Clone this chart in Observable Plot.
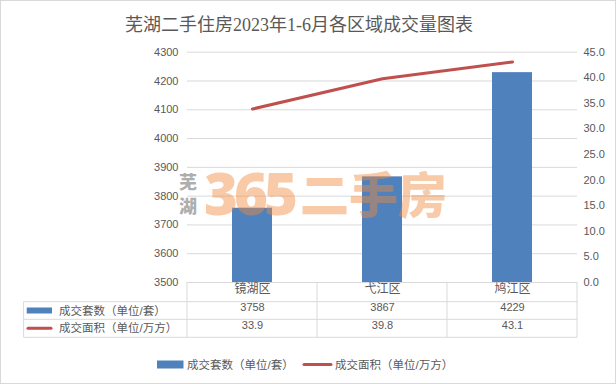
<!DOCTYPE html>
<html>
<head>
<meta charset="utf-8">
<script src="https://cdn.jsdelivr.net/npm/d3@7"></script>
<script src="https://cdn.jsdelivr.net/npm/@observablehq/plot@0.6"></script>
<style>
  html, body { margin: 0; padding: 0; background: #fff; }
  #chart svg { display: block; }
</style>
</head>
<body>
<div id="chart"></div>
<script>
const title = "芜湖二手住房2023年1-6月各区域成交量图表";
const categories = ["镜湖区", "弋江区", "鸠江区"];
const units = [3758, 3867, 4229];          // 成交套数（单位/套）
const areas = [33.9, 39.8, 43.1];          // 成交面积（单位/万方）
const seriesNames = ["成交套数（单位/套）", "成交面积（单位/万方）"];
const leftTicks = [3500, 3600, 3700, 3800, 3900, 4000, 4100, 4200, 4300];
const rightTicks = [0, 5, 10, 15, 20, 25, 30, 35, 40, 45];

const leftDomain = [3500, 4300];
const rightDomain = [0, 45];
const toLeft = v => leftDomain[0] + (v - rightDomain[0]) / (rightDomain[1] - rightDomain[0]) * (leftDomain[1] - leftDomain[0]);
const toRight = v => rightDomain[0] + (v - leftDomain[0]) / (leftDomain[1] - leftDomain[0]) * (rightDomain[1] - rightDomain[0]);

const rows = categories.map((c, i) => ({cat: c, units: units[i], area: areas[i]}));

const FONT = '"Liberation Sans", "Noto Sans CJK SC", sans-serif';
const TEXT = "#595959";
const BLUE = "#4F81BD";
const RED = "#C0504D";
const GRID = "#D9D9D9";

const chart = Plot.plot({
  width: 616,
  height: 384,
  marginTop: 51.7,
  marginBottom: 102,
  marginLeft: 187,
  marginRight: 39,
  style: {fontFamily: FONT, fontSize: "11px", color: TEXT, background: "#fff", overflow: "visible"},
  x: {domain: categories, padding: 0, axis: null},
  y: {domain: leftDomain, axis: null},
  marks: [
    Plot.gridY(leftTicks, {stroke: GRID, strokeOpacity: 1, strokeWidth: 1}),
    Plot.axisY(leftTicks, {anchor: "left", tickSize: 0, tickPadding: 9, tickFormat: d => String(d), label: null, fontSize: 11}),
    Plot.axisY(rightTicks.map(toLeft), {anchor: "right", tickSize: 0, tickPadding: 6, tickFormat: d => toRight(d).toFixed(1), label: null, fontSize: 11}),
    Plot.barY(rows, {x: "cat", y1: () => leftDomain[0], y2: "units", fill: BLUE, insetLeft: 45, insetRight: 45}),
    Plot.line(rows, {x: "cat", y: d => toLeft(d.area), stroke: RED, strokeWidth: 3, strokeLinecap: "round"}),
    Plot.text(rows, {x: "cat", text: "cat", frameAnchor: "bottom", dy: 10.5, fontSize: 12, fill: TEXT}),
    Plot.text(rows, {x: "cat", text: d => String(d.units), frameAnchor: "bottom", dy: 28.5, fontSize: 11, fill: TEXT}),
    Plot.text(rows, {x: "cat", text: d => d.area.toFixed(1), frameAnchor: "bottom", dy: 46.3, fontSize: 11, fill: TEXT})
  ]
});

document.getElementById("chart").appendChild(chart);

const svg = d3.select(chart);
const xs = chart.scale("x");
const x0 = xs.range[0];
const step = xs.step;
const nCols = categories.length;
const xEnd = x0 + step * nCols;
const ys = chart.scale("y");
const yBase = ys.apply(leftDomain[0]);

// outer chart border
svg.append("rect")
  .attr("x", 0.5).attr("y", 0.5).attr("width", 615).attr("height", 383)
  .attr("fill", "none").attr("stroke", GRID);

const addText = (x, y, t, opts = {}) => {
  const el = svg.append("text")
    .attr("x", x).attr("y", y)
    .attr("text-anchor", opts.anchor || "start")
    .attr("dominant-baseline", "central")
    .attr("font-family", opts.family || FONT)
    .attr("font-size", opts.size || 11.5)
    .attr("font-weight", opts.weight || 400)
    .attr("fill", opts.fill || TEXT)
    .text(t);
  if (opts.opacity != null) el.attr("fill-opacity", opts.opacity);
  if (opts.spacing != null) el.attr("letter-spacing", opts.spacing);
  return el;
};

// title
addText(299, 25, title, {anchor: "middle", size: 18, family: '"Liberation Serif", "Noto Sans CJK SC", serif'});

// data table grid
const tableLeft = 23.6;
const rowLines = [yBase + 19.7, yBase + 37.3, yBase + 55.3];
const g = svg.append("g").attr("stroke", GRID).attr("stroke-width", 1);
rowLines.forEach(y => g.append("line").attr("x1", tableLeft).attr("x2", xEnd).attr("y1", y).attr("y2", y));
for (let i = 0; i <= nCols; i++) {
  const x = x0 + i * step;
  g.append("line").attr("x1", x).attr("x2", x).attr("y1", yBase).attr("y2", rowLines[2]);
}
g.append("line").attr("x1", tableLeft).attr("x2", tableLeft).attr("y1", rowLines[0]).attr("y2", rowLines[2]);

// table row headers
const r1 = (rowLines[0] + rowLines[1]) / 2;
const r2 = (rowLines[1] + rowLines[2]) / 2;
svg.append("rect").attr("x", 26.7).attr("y", r1 - 3).attr("width", 25.3).attr("height", 6).attr("fill", BLUE);
svg.append("line").attr("x1", 28).attr("x2", 51).attr("y1", r2).attr("y2", r2)
  .attr("stroke", RED).attr("stroke-width", 3).attr("stroke-linecap", "round");
addText(59, r1, seriesNames[0]);
addText(59, r2, seriesNames[1]);

// legend
const ly = 364.5;
svg.append("rect").attr("x", 157).attr("y", ly - 4).attr("width", 26.5).attr("height", 8).attr("fill", BLUE);
addText(187, ly, seriesNames[0]);
svg.append("line").attr("x1", 304).attr("x2", 331).attr("y1", ly).attr("y2", ly)
  .attr("stroke", RED).attr("stroke-width", 3).attr("stroke-linecap", "round");
addText(335, ly, seriesNames[1]);

// watermark
const CJK = '"Noto Sans CJK SC", sans-serif';
addText(188, 181, "芜", {anchor: "middle", size: 18, weight: 900, family: CJK, fill: "#8a8a8a", opacity: 0.7});
addText(188, 205, "湖", {anchor: "middle", size: 18, weight: 900, family: CJK, fill: "#8a8a8a", opacity: 0.7});
addText(204, 192, "365", {size: 58, weight: 800, family: '"Open Sans", "Noto Sans CJK SC", sans-serif', fill: "#F08A3C", opacity: 0.45, spacing: -4});
addText(300, 191, "二手房", {size: 49, weight: 900, family: CJK, fill: "#F08A3C", opacity: 0.45});
</script>
</body>
</html>
